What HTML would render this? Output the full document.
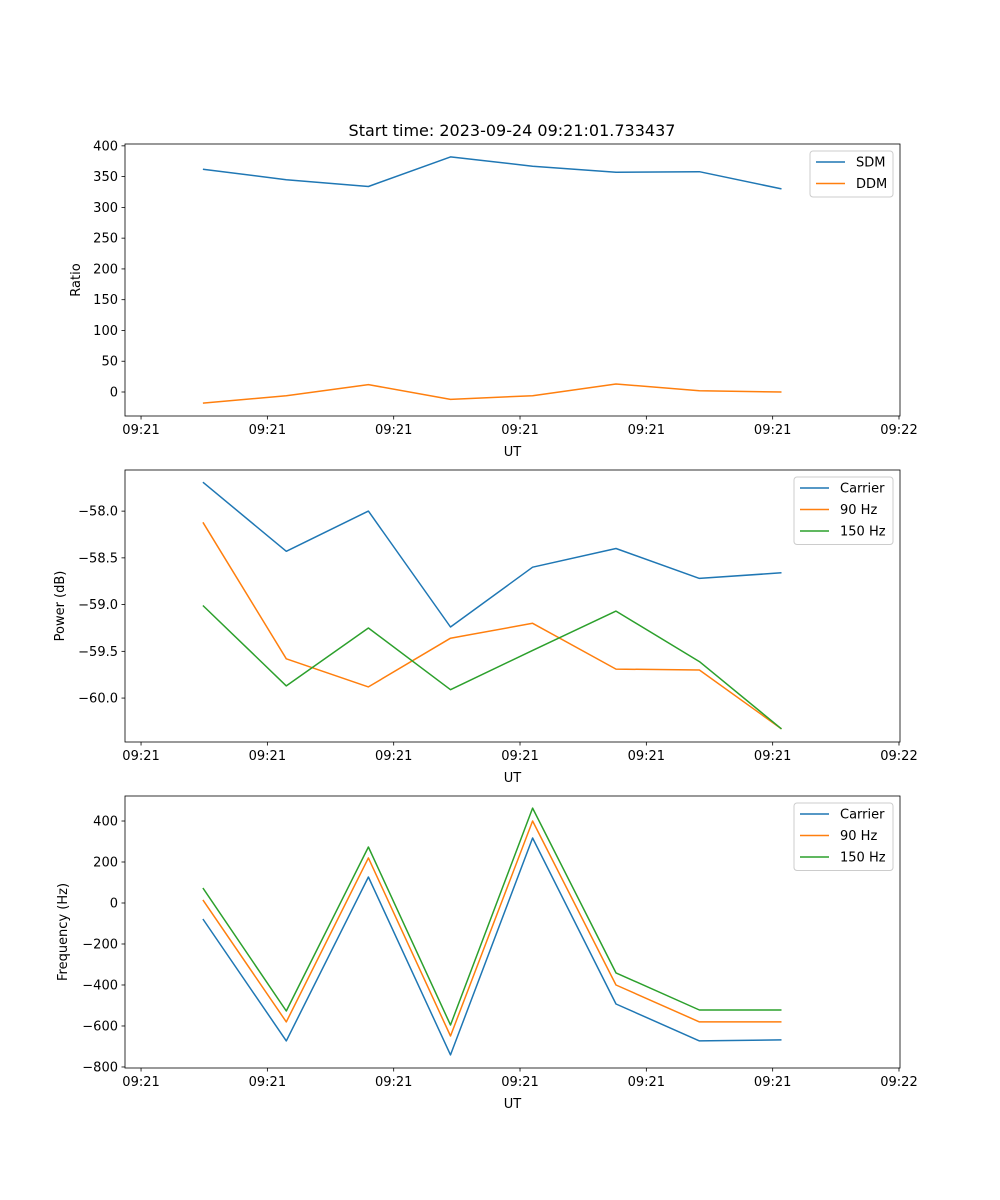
<!DOCTYPE html>
<html><head><meta charset="utf-8"><style>
html,body{margin:0;padding:0;background:#fff;}
svg{display:block;font-family:"DejaVu Sans","Liberation Sans",sans-serif;}
</style></head><body>
<svg id="fig" width="1000" height="1200" viewBox="0 0 1000 1200">
<text x="512" y="136" font-size="16" text-anchor="middle">Start time: 2023-09-24 09:21:01.733437</text>
</svg>
<script>
// x values: seconds after 09:21:00
const times = [4.9, 11.5, 18.0, 24.5, 31.0, 37.6, 44.2, 50.7];
const xTickVals = [0, 10, 20, 30, 40, 50, 60];
const xTickLabels = ["09:21","09:21","09:21","09:21","09:21","09:21","09:22"];

const sdm = [362, 345, 334, 382, 367, 357, 358, 330];
const ddm = [-18, -6, 12, -12, -6, 13, 2, 0];
const ratioTicks = [0, 50, 100, 150, 200, 250, 300, 350, 400];

const pwrCarrier = [-57.69, -58.43, -58.0, -59.24, -58.60, -58.40, -58.72, -58.66];
const pwr90 = [-58.12, -59.58, -59.88, -59.36, -59.20, -59.69, -59.70, -60.33];
const pwr150 = [-59.01, -59.87, -59.25, -59.91, -59.49, -59.07, -59.61, -60.33];
const pwrTicks = [-58.0, -58.5, -59.0, -59.5, -60.0];

const frqCarrier = [-78, -673, 127, -741, 317, -493, -673, -668];
const frq90 = [15, -580, 220, -649, 400, -400, -580, -580];
const frq150 = [73, -527, 273, -595, 463, -341, -522, -522];
const frqTicks = [400, 200, 0, -200, -400, -600, -800];

const NS = "http://www.w3.org/2000/svg";
const svg = document.getElementById("fig");
const C = ["#1f77b4", "#ff7f0e", "#2ca02c"];
const L = 125, R = 900, XMIN = -1.27, XMAX = 60.08;
const xs = v => L + (v - XMIN) / (XMAX - XMIN) * (R - L);

function el(tag, attrs, parent) {
  const e = document.createElementNS(NS, tag);
  for (const k in attrs) e.setAttribute(k, attrs[k]);
  (parent || svg).appendChild(e);
  return e;
}
function txt(s, attrs, parent) { const t = el("text", attrs, parent); t.textContent = s; return t; }
function fmt(v, dec) { return (v < 0 ? "\u2212" : "") + Math.abs(v).toFixed(dec); }

function panel(name, top, bottom, ymin, ymax, yticks, dec, ylabel, ylabelOff, series, names, legendW) {
  const g = el("g", {});
  
  
  const ys = v => bottom - (v - ymin) / (ymax - ymin) * (bottom - top);
  yticks.forEach(v => {
    const y = ys(v);
    el("line", {x1: L - 3.5, x2: L, y1: y, y2: y, stroke: "#000", "stroke-width": 0.8}, g);
    const t = txt(fmt(v, dec), {x: L - 7, y: y + 4.5, "font-size": 13, "text-anchor": "end"}, g);
    
    
  });
  xTickVals.forEach((v, i) => {
    const x = xs(v);
    el("line", {x1: x, x2: x, y1: bottom, y2: bottom + 3.5, stroke: "#000", "stroke-width": 0.8}, g);
    const t = txt(xTickLabels[i], {x: x, y: bottom + 18, "font-size": 13, "text-anchor": "middle"}, g);
    
    
  });
  const xl = txt("UT", {x: (L + R) / 2, y: bottom + 40, "font-size": 13, "text-anchor": "middle"}, g);
  
  
  const cy = (top + bottom) / 2;
  const yl = txt(ylabel, {x: 0, y: 0, "font-size": 13, "text-anchor": "middle", transform: `translate(${L - ylabelOff},${cy}) rotate(-90)`}, g);
  
  
  series.forEach((s, i) => {
    const p = el("polyline", {points: s.map((v, j) => xs(times[j]).toFixed(1) + "," + ys(v).toFixed(1)).join(" "), fill: "none", stroke: C[i], "stroke-width": 1.5, "stroke-linejoin": "round"}, g);
    
    
  });
  el("rect", {x: L, y: top, width: R - L, height: bottom - top, fill: "none", stroke: "#000", "stroke-width": 0.8}, g);
  const lg = el("g", {}, g);
  
  
  const lx = R - 7 - legendW, ly = top + 7;
  el("rect", {x: lx, y: ly, width: legendW, height: 3 + names.length * 21.5, rx: 3, fill: "#fff", "fill-opacity": 0.8, stroke: "#ccc", "stroke-width": 1}, lg);
  names.forEach((n, i) => {
    const yy = ly + 11 + i * 21.5;
    el("line", {x1: lx + 6, x2: lx + 35, y1: yy, y2: yy, stroke: C[i], "stroke-width": 1.5}, lg);
    const t = txt(n, {x: lx + 46, y: yy + 4.5, "font-size": 13}, lg);
    
    
  });
}

panel("ratio-panel", 144, 416, -39, 403, ratioTicks, 0, "Ratio", 45, [sdm, ddm], ["SDM", "DDM"], 83);
panel("power-panel", 470, 742, -60.47, -57.56, pwrTicks, 1, "Power (dB)", 61, [pwrCarrier, pwr90, pwr150], ["Carrier", "90 Hz", "150 Hz"], 99);
panel("frequency-panel", 796, 1068, -805, 522, frqTicks, 0, "Frequency (Hz)", 58, [frqCarrier, frq90, frq150], ["Carrier", "90 Hz", "150 Hz"], 99);
</script>
</body></html>
